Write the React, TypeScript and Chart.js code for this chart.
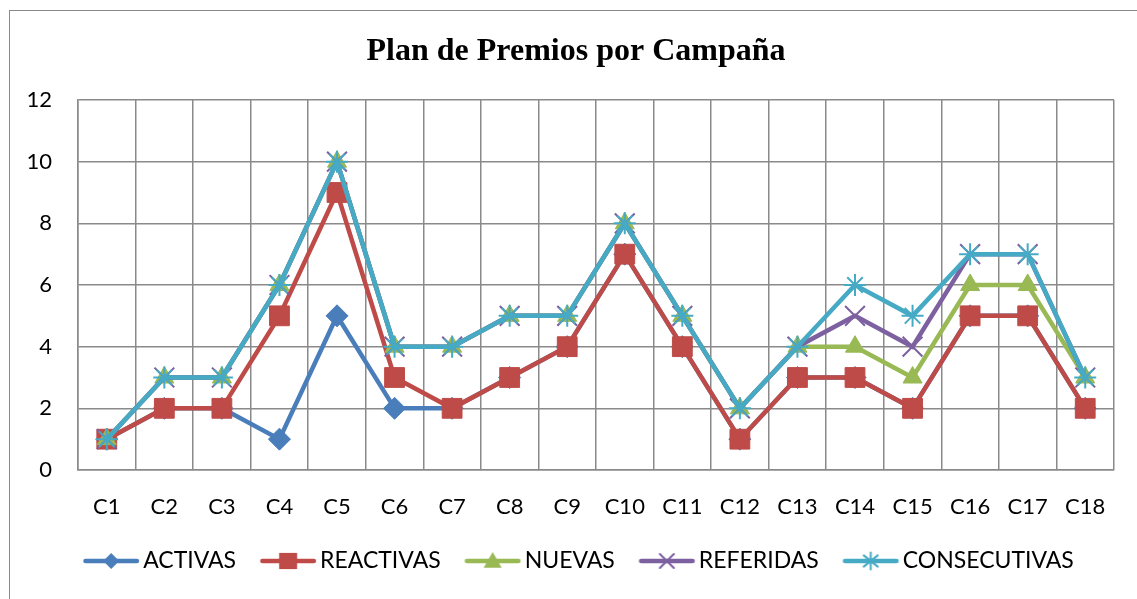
import React, { useEffect, useRef } from 'react';
import { Chart, registerables } from 'chart.js';

Chart.register(...registerables);

const categories = ['C1', 'C2', 'C3', 'C4', 'C5', 'C6', 'C7', 'C8', 'C9', 'C10', 'C11', 'C12', 'C13', 'C14', 'C15', 'C16', 'C17', 'C18'];
const activas = [1, 2, 2, 1, 5, 2, 2, 3, 4, 7, 4, 1, 3, 3, 2, 5, 5, 2];
const reactivas = [1, 2, 2, 5, 9, 3, 2, 3, 4, 7, 4, 1, 3, 3, 2, 5, 5, 2];
const nuevas = [1, 3, 3, 6, 10, 4, 4, 5, 5, 8, 5, 2, 4, 4, 3, 6, 6, 3];
const referidas = [1, 3, 3, 6, 10, 4, 4, 5, 5, 8, 5, 2, 4, 5, 4, 7, 7, 3];
const consecutivas = [1, 3, 3, 6, 10, 4, 4, 5, 5, 8, 5, 2, 4, 6, 5, 7, 7, 3];
const seriesNames = ['ACTIVAS', 'REACTIVAS', 'NUEVAS', 'REFERIDAS', 'CONSECUTIVAS'];
const seriesValues = [activas, reactivas, nuevas, referidas, consecutivas];
const seriesColors = ['#4A7EBB', '#BE4B48', '#98B954', '#7D60A0', '#46AAC5'];
const seriesMarkers = ['rectRot', 'rect', 'triangle', 'crossRot', 'star'];
const seriesRadius = [11, 14, 11, 14, 11];
const legendMarkerSize = [8, 9, 9, 7, 7];
const titleText = 'Plan de Premios por Campaña';
const yMin = 0;
const yMax = 12;
const yStep = 2;

const W = 1137;
const H = 599;
const GRID = '#8a8a8a';
const SANS = "Lato, 'Noto Sans', sans-serif";
const TITLE_FONT = "bold 32px 'Liberation Serif', 'Times New Roman', serif";

function drawMarker(ctx: CanvasRenderingContext2D, kind: string, x: number, y: number, r: number, color: string) {
  ctx.save();
  ctx.fillStyle = color;
  ctx.strokeStyle = color;
  ctx.lineWidth = 2;
  ctx.beginPath();
  if (kind === 'rectRot') {
    ctx.moveTo(x, y - r);
    ctx.lineTo(x + r, y);
    ctx.lineTo(x, y + r);
    ctx.lineTo(x - r, y);
    ctx.closePath();
    ctx.fill();
  } else if (kind === 'rect') {
    ctx.rect(x - r, y - r * 0.9, 2 * r, 1.8 * r);
    ctx.fill();
  } else if (kind === 'triangle') {
    ctx.moveTo(x, y - r);
    ctx.lineTo(x + r, y + r * 0.75);
    ctx.lineTo(x - r, y + r * 0.75);
    ctx.closePath();
    ctx.fill();
  } else if (kind === 'crossRot') {
    ctx.moveTo(x - r, y - r);
    ctx.lineTo(x + r, y + r);
    ctx.moveTo(x + r, y - r);
    ctx.lineTo(x - r, y + r);
    ctx.stroke();
  } else {
    ctx.moveTo(x, y - r * 1.2);
    ctx.lineTo(x, y + r * 1.2);
    ctx.moveTo(x - r, y - r * 0.8);
    ctx.lineTo(x + r, y + r * 0.8);
    ctx.moveTo(x + r, y - r * 0.8);
    ctx.lineTo(x - r, y + r * 0.8);
    ctx.stroke();
  }
  ctx.restore();
}

function legendImage(i: number): HTMLCanvasElement {
  const c = document.createElement('canvas');
  c.width = 70;
  c.height = 24;
  const ctx = c.getContext('2d') as CanvasRenderingContext2D;
  ctx.strokeStyle = seriesColors[i];
  ctx.lineWidth = 4.5;
  ctx.lineCap = 'round';
  ctx.beginPath();
  ctx.moveTo(15.5, 12);
  ctx.lineTo(67, 12);
  ctx.stroke();
  drawMarker(ctx, seriesMarkers[i], 41.25, 12, legendMarkerSize[i], seriesColors[i]);
  return c;
}

const framePlugin = {
  id: 'frame',
  beforeDraw(chart: any) {
    const ctx = chart.ctx;
    ctx.save();
    ctx.fillStyle = '#ffffff';
    ctx.fillRect(0, 0, chart.width, chart.height);
    ctx.strokeStyle = GRID;
    ctx.lineWidth = 1;
    ctx.strokeRect(9.5, 10.5, chart.width + 20, chart.height + 20);
    ctx.restore();
  },
  afterLayout(chart: any) {
    if (chart.legend) chart.legend.left = 38;
  },
  afterDraw(chart: any) {
    const ctx = chart.ctx;
    ctx.save();
    ctx.font = TITLE_FONT;
    ctx.fillStyle = '#000000';
    ctx.textAlign = 'center';
    ctx.textBaseline = 'middle';
    ctx.fillText(titleText, 576, 52);
    ctx.restore();
  },
};

export default function App() {
  const ref = useRef<HTMLCanvasElement | null>(null);

  useEffect(() => {
    if (!ref.current) return;
    const images = seriesNames.map((_, i) => legendImage(i));
    const chart = new Chart(ref.current, {
      type: 'line',
      data: {
        labels: categories,
        datasets: seriesNames.map((name, i) => ({
          label: name,
          data: seriesValues[i],
          borderColor: seriesColors[i],
          backgroundColor: seriesColors[i],
          borderWidth: 4.5,
          pointStyle: seriesMarkers[i] as any,
          pointRadius: seriesRadius[i],
          pointBorderWidth: i >= 3 ? 2 : 1,
          pointBorderColor: seriesColors[i],
          pointBackgroundColor: seriesColors[i],
          tension: 0,
          order: seriesNames.length - i,
        })),
      },
      options: {
        responsive: false,
        animation: false,
        devicePixelRatio: 1,
        events: [],
        layout: { padding: { left: 0, right: 23, top: 100, bottom: 16.5 } },
        plugins: {
          tooltip: { enabled: false },
          title: { display: false },
          legend: {
            position: 'bottom',
            labels: {
              usePointStyle: true,
              pointStyleWidth: 53.5,
              color: '#000000',
              padding: 19,
              font: { family: SANS, size: 23 },
              generateLabels: (ch: any) =>
                ch.data.datasets.map((ds: any, i: number) => ({
                  text: ds.label,
                  pointStyle: images[i],
                  fillStyle: seriesColors[i],
                  strokeStyle: seriesColors[i],
                  lineWidth: 0,
                  hidden: false,
                  datasetIndex: i,
                  fontColor: '#000000',
                })),
            },
          },
        },
        scales: {
          x: {
            offset: true,
            grid: { offset: true, color: GRID, lineWidth: 1.5, drawTicks: false },
            border: { color: GRID, width: 1.5 },
            ticks: { color: '#000000', font: { family: SANS, size: 22 }, padding: 24, maxRotation: 0 },
            afterFit: (s: any) => { s.height = 60.5; },
          },
          y: {
            min: yMin,
            max: yMax,
            grid: { color: GRID, lineWidth: 1.5, drawTicks: false },
            border: { color: GRID, width: 1.5 },
            ticks: { stepSize: yStep, color: '#000000', font: { family: SANS, size: 22 }, padding: 26 },
            afterFit: (s: any) => { s.width = 78; },
          },
        },
      },
      plugins: [framePlugin],
    });
    return () => chart.destroy();
  }, []);

  return (
    <canvas
      ref={ref}
      width={W}
      height={H}
      style={{ position: 'fixed', left: 0, top: 0, display: 'block' }}
    />
  );
}
